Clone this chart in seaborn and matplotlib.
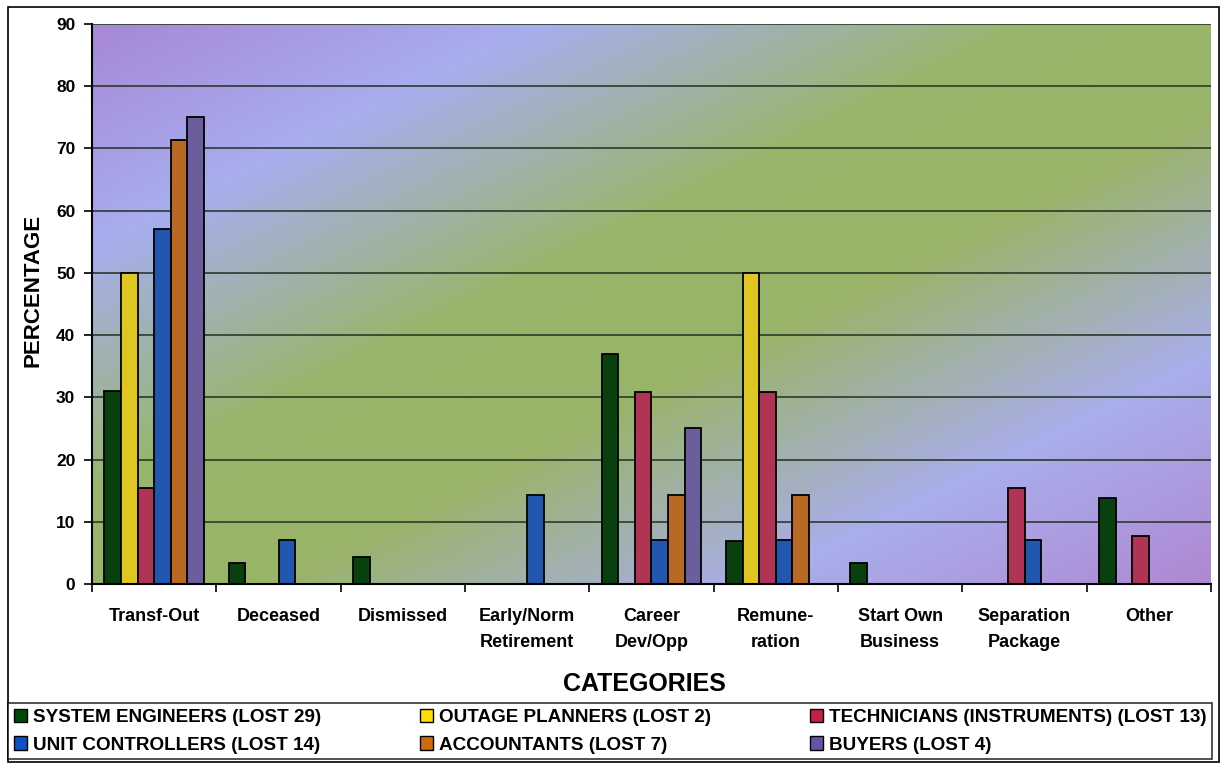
import numpy as np
import pandas as pd
import matplotlib
matplotlib.use("Agg")
import matplotlib.pyplot as plt
import seaborn as sns
from matplotlib.colors import LinearSegmentedColormap
from matplotlib.patches import Rectangle, Patch

# ---- data -------------------------------------------------------------
categories = ["Transf-Out", "Deceased", "Dismissed", "Early/Norm\nRetirement",
              "Career\nDev/Opp", "Remune-\nration", "Start Own\nBusiness",
              "Separation\nPackage", "Other"]

groups = ["SYSTEM ENGINEERS (LOST 29)", "OUTAGE PLANNERS (LOST 2)",
          "TECHNICIANS (INSTRUMENTS) (LOST 13)", "UNIT CONTROLLERS (LOST 14)",
          "ACCOUNTANTS (LOST 7)", "BUYERS (LOST 4)"]

system_engineers = [31.0, 3.4, 4.4, 0.0, 37.0, 6.9, 3.4, 0.0, 13.8]
outage_planners  = [50.0, 0.0, 0.0, 0.0, 0.0, 50.0, 0.0, 0.0, 0.0]
technicians      = [15.4, 0.0, 0.0, 0.0, 30.8, 30.8, 0.0, 15.4, 7.7]
unit_controllers = [57.1, 7.1, 0.0, 14.3, 7.1, 7.1, 0.0, 7.1, 0.0]
accountants      = [71.4, 0.0, 0.0, 0.0, 14.3, 14.3, 0.0, 0.0, 0.0]
buyers           = [75.0, 0.0, 0.0, 0.0, 25.0, 0.0, 0.0, 0.0, 0.0]

colors = ["#004A06", "#FFDD00", "#C4204A", "#0A52C6", "#D0680C", "#6652A6"]

series = [system_engineers, outage_planners, technicians,
          unit_controllers, accountants, buyers]
df = pd.DataFrame({
    "category": np.tile(categories, len(groups)),
    "group": np.repeat(groups, len(categories)),
    "value": np.concatenate(series),
})

# ---- figure -----------------------------------------------------------
sns.set_theme(style="white")
plt.rcParams["font.family"] = ["Liberation Sans", "DejaVu Sans"]
plt.rcParams["font.weight"] = "bold"
plt.rcParams["text.color"] = "black"
plt.rcParams["axes.labelcolor"] = "black"
plt.rcParams["xtick.color"] = "black"
plt.rcParams["ytick.color"] = "black"

W, H = 1224, 774
fig = plt.figure(figsize=(W / 100, H / 100), dpi=100)
fig.patch.set_facecolor("white")

def px(x0, y0, x1, y1):
    return [x0 / W, 1 - y1 / H, (x1 - x0) / W, (y1 - y0) / H]

rect = px(92, 24, 1211, 584)

# diagonal colour-wash behind the plotting area
bg = fig.add_axes(rect, zorder=0)
ny, nx = 300, 600
yy, xx = np.mgrid[0:1:ny * 1j, 0:1:nx * 1j]
t = 0.5 * xx + 0.5 * yy
wash = LinearSegmentedColormap.from_list("wash", [
    (0.00, "#A888D6"),
    (0.20, "#A7AEEE"),
    (0.42, "#98B66C"),
    (0.58, "#99B468"),
    (0.80, "#A9AEEC"),
    (1.00, "#AF88D2"),
])
bg.imshow(t, cmap=wash, aspect="auto", extent=[0, 1, 0, 1], origin="upper")
bg.set_axis_off()

ax = fig.add_axes(rect, zorder=1)
ax.set_facecolor("none")

sns.barplot(data=df, x="category", y="value", hue="group", hue_order=groups,
            order=categories, palette=colors, edgecolor="black", linewidth=1.3,
            width=0.8, ax=ax, legend=False, errorbar=None)

ax.set_ylim(0, 90)
ax.set_xlim(-0.5, len(categories) - 0.5)
ax.set_yticks(np.arange(0, 91, 10))
ax.yaxis.grid(True, color="#22301f", linewidth=1.1)
ax.set_axisbelow(True)
for s in ["top", "right"]:
    ax.spines[s].set_visible(False)
ax.spines["left"].set_color("black")
ax.spines["left"].set_linewidth(1.5)
ax.spines["bottom"].set_color("black")
ax.spines["bottom"].set_linewidth(1.5)

ax.set_xlabel("")
ax.set_ylabel("")
ax.tick_params(axis="y", length=6, width=1.2, color="black", pad=6,
               labelsize=12.5, left=True)
ax.set_xticks(np.arange(len(categories)))
ax.set_xticklabels(categories, linespacing=1.7)
ax.set_xticks(np.arange(len(categories) + 1) - 0.5, minor=True)
ax.tick_params(axis="x", which="major", length=0, pad=17, labelsize=13)
ax.tick_params(axis="x", which="minor", length=6, width=1.2, color="black",
               bottom=True)
for lab in ax.get_xticklabels() + ax.get_yticklabels():
    lab.set_fontweight("bold")
    lab.set_color("black")

# axis titles
fig.text(33 / W, 1 - 290 / H, "PERCENTAGE", rotation=90, ha="center",
         va="center", fontsize=16, fontweight="bold", color="black")
fig.text(644 / W, 1 - 684 / H, "CATEGORIES", ha="center", va="center",
         fontsize=18, fontweight="bold", color="black")

# legend: two rows of three entries
order = [0, 3, 1, 4, 2, 5]
handles = [Patch(facecolor=colors[i], edgecolor="black", linewidth=1.0)
           for i in order]
labels = [groups[i] for i in order]
leg = fig.legend(handles, labels, ncol=3, loc="upper left",
                 bbox_to_anchor=(8 / W, 1 - 756 / H, 1204 / W, 53 / H),
                 mode="expand", frameon=True, fancybox=False,
                 edgecolor="black", handlelength=0.7,
                 handleheight=0.7, handletextpad=0.3, borderaxespad=0,
                 labelspacing=0.55, borderpad=0.3,
                 prop={"weight": "bold", "size": 13.6})
leg.get_frame().set_linewidth(1.2)
for txt in leg.get_texts():
    txt.set_color("black")

# outer frame
fig.add_artist(Rectangle((8 / W, 1 - 762 / H), 1211 / W, 755 / H,
                         transform=fig.transFigure, fill=False,
                         edgecolor="black", linewidth=1.2))

fig.savefig("out.png", dpi=100)
